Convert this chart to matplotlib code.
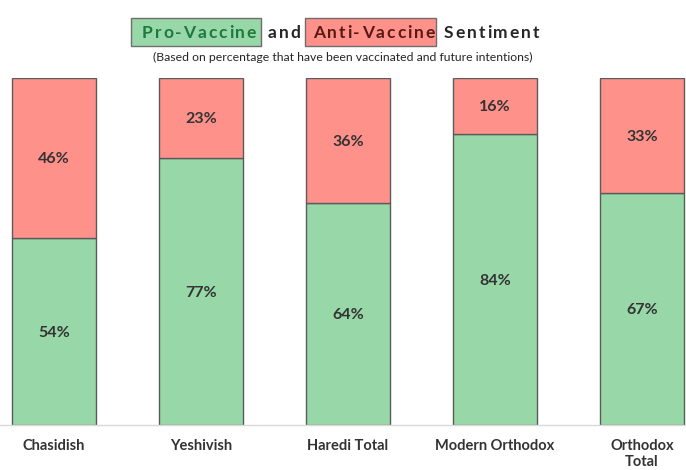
import matplotlib
matplotlib.use("Agg")
import matplotlib.pyplot as plt
from matplotlib.patches import Rectangle

categories = ['Chasidish', 'Yeshivish', 'Haredi Total', 'Modern Orthodox', 'Orthodox\nTotal']
pro = [54, 77, 64, 84, 67]
anti = [46, 23, 36, 16, 33]

green = '#98D7A7'
red = '#FF918B'
edge = '#5B5B5B'
txt = '#333333'

plt.rcParams['font.family'] = ['Lato', 'DejaVu Sans']

W, H = 686, 470
fig = plt.figure(figsize=(W / 100, H / 100), dpi=100)
ax = fig.add_axes([0, (H - 425) / H, 1, (425 - 78) / H])

x = list(range(len(categories)))
ax.bar(x, pro, width=0.571, color=green, edgecolor=edge, linewidth=1)
ax.bar(x, anti, bottom=pro, width=0.571, color=red, edgecolor=edge, linewidth=1)
ax.set_xlim(-54 / 147, (W - 54) / 147)
ax.set_ylim(0, 100)

for i in x:
    ax.text(i, pro[i] / 2, f'{pro[i]}%', ha='center', va='center_baseline',
            fontsize=11.5, fontweight='bold', color=txt)
    ax.text(i, pro[i] + anti[i] / 2, f'{anti[i]}%', ha='center', va='center_baseline',
            fontsize=11.5, fontweight='bold', color=txt)

ax.set_xticks(x)
ax.set_xticklabels(categories, fontsize=10.5, fontweight='bold', color=txt, linespacing=1.15)
ax.tick_params(axis='x', length=0, pad=10)
ax.set_yticks([])
for s in ['left', 'right', 'top']:
    ax.spines[s].set_visible(False)
ax.spines['bottom'].set_color('#D9D9D9')
ax.spines['bottom'].set_linewidth(1)

# title with letter spacing, built word by word
renderer = fig.canvas.get_renderer()


def spaced(word, x0, y, color, size=12.5, track=1.9):
    xp = x0
    for ch in word:
        t = fig.text(xp / W, 1 - y / H, ch, fontsize=size, fontweight='bold',
                     color=color, va='center', ha='left')
        xp += t.get_window_extent(renderer).width + track
    return xp


fig.patches.append(Rectangle((131 / W, 1 - 46 / H), 130 / W, 28 / H, transform=fig.transFigure,
                             facecolor=green, edgecolor='#6E6E6E', linewidth=1, zorder=0))
fig.patches.append(Rectangle((305 / W, 1 - 46 / H), 131 / W, 28 / H, transform=fig.transFigure,
                             facecolor=red, edgecolor='#6E6E6E', linewidth=1, zorder=0))
spaced('Pro-Vaccine', 142, 33, '#1E7A3C')
spaced('and', 268, 33, '#262626')
spaced('Anti-Vaccine', 313, 33, '#5A1A14')
spaced('Sentiment', 444, 33, '#262626')

fig.text(343 / W, 1 - 57 / H, '(Based on percentage that have been vaccinated and future intentions)',
         ha='center', va='center', fontsize=8.8, color='#262626')

fig.savefig('out.png', dpi=100)
